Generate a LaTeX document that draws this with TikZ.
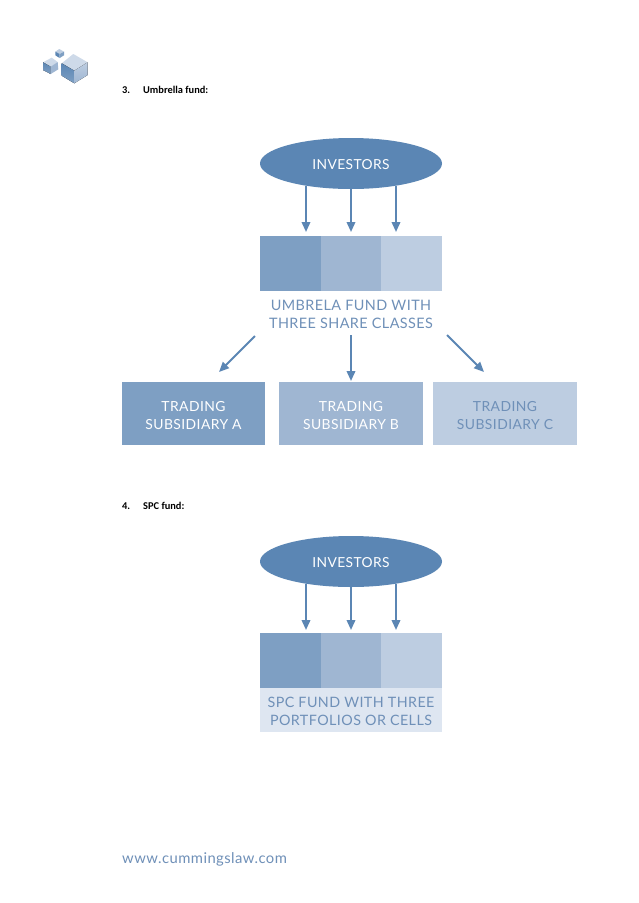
\documentclass[tikz,border=0pt]{standalone}
\usepackage{fontspec}
\setmainfont{Carlito}
\newfontfamily\diagfont[LetterSpace=3]{Lato}
\usetikzlibrary{shapes.geometric,arrows.meta}
\definecolor{deep}{HTML}{5B86B4}
\definecolor{midA}{HTML}{7E9FC3}
\definecolor{midB}{HTML}{9FB6D2}
\definecolor{midC}{HTML}{BDCDE1}
\definecolor{pale}{HTML}{DEE6F1}
\definecolor{inktext}{HTML}{6F90B8}
\tikzset{
  x=1pt,y=-1pt,
  ovalbox/.style={ellipse,fill=deep,draw=none,minimum width=182pt,minimum height=51pt,inner sep=0pt},
  ovaltxt/.style={inner sep=0pt,text=white,font=\diagfont\fontsize{13.8}{16}\selectfont},
  cellbox/.style={rectangle,draw=none,inner sep=0pt,minimum height=55pt},
  subbox/.style={rectangle,draw=none,inner sep=0pt,minimum width=143.5pt,minimum height=63pt},
  subtxt/.style={inner sep=0pt,align=center,font=\diagfont\fontsize{13.9}{18.5}\selectfont},
  captxt/.style={inner sep=0pt,align=center,text=inktext,font=\diagfont\fontsize{14.4}{18.5}\selectfont},
  arr/.style={draw=deep,line width=2pt,-{Triangle[length=10pt,width=8.5pt]}},
  headtxt/.style={inner sep=0pt,anchor=base west,text=black,font=\fontsize{10.4}{12}\selectfont\bfseries},
}
\begin{document}
\begin{tikzpicture}
\useasboundingbox[fill=white] (0,0) rectangle (638,903);
% logo
\fill[midC!75] (73.3,54) -- (61.7,63.3) -- (74.3,70.7) -- (87.7,62.3) -- cycle;
\fill[top color=deep,bottom color=midA] (61.7,63.3) -- (74.3,70.7) -- (74.3,83.3) -- (61.7,75.7) -- cycle;
\fill[top color=midC,bottom color=midB] (74.3,70.7) -- (87.7,62.3) -- (87.7,75) -- (74.3,83.3) -- cycle;
\fill[midC!75] (51.7,57.7) -- (43,62.3) -- (50.7,66.7) -- (57.7,62) -- cycle;
\fill[top color=deep,bottom color=midA] (43,62.3) -- (50.7,66.7) -- (50.7,74) -- (43,70) -- cycle;
\fill[midB] (50.7,66.7) -- (57.7,62) -- (58.3,69.3) -- (50.7,74) -- cycle;
\fill[midC] (59.3,49) -- (55.3,51.7) -- (59.7,54) -- (64,51.7) -- cycle;
\fill[deep] (55.3,51.7) -- (59.7,54) -- (59.7,58) -- (55.3,55.3) -- cycle;
\fill[midA] (59.7,54) -- (64,51.7) -- (64,55.3) -- (59.7,58) -- cycle;
% headings
\node[headtxt] (h3n) at (122,93) {3.};
\node[headtxt] (h3t) at (143,93) {Umbrella fund:};
\node[headtxt] (h4n) at (122,509) {4.};
\node[headtxt] (h4t) at (143,509) {SPC fund:};
% umbrella
\node[ovalbox] (inv) at (351,163.5) {};
\node[ovaltxt] (invt) at (351,164.5) {INVESTORS};
\node[cellbox,fill=midA,minimum width=61pt] (ca) at (290.5,263) {};
\node[cellbox,fill=midB,minimum width=60pt] (cb) at (351,263) {};
\node[cellbox,fill=midC,minimum width=61pt] (cc) at (411.5,263) {};
\node[captxt] (ucap) at (351,314.5) {UMBRELA FUND WITH\\THREE SHARE CLASSES};
\node[subbox,fill=midA] (sa) at (193.5,413.5) {};
\node[subbox,fill=midB] (sb) at (351,413.5) {};
\node[subbox,fill=midC] (sc) at (505,413.5) {};
\node[subtxt,text=white] (sat) at (193.5,415.5) {TRADING\\SUBSIDIARY A};
\node[subtxt,text=white] (sbt) at (351,415.5) {TRADING\\SUBSIDIARY B};
\node[subtxt,text=inktext] (sct) at (505,415.5) {TRADING\\SUBSIDIARY C};
\coordinate (u1s) at (306,186);
\coordinate (u2s) at (351,189);
\coordinate (u3s) at (396,186);
\coordinate (u1e) at (306,232);
\coordinate (u2e) at (351,232);
\coordinate (u3e) at (396,232);
\draw[arr] (u1s) -- (u1e);
\draw[arr] (u2s) -- (u2e);
\draw[arr] (u3s) -- (u3e);
\coordinate (d1s) at (255,336);
\coordinate (d1e) at (219,372);
\coordinate (d2s) at (351,335);
\coordinate (d2e) at (351,381);
\coordinate (d3s) at (447,335);
\coordinate (d3e) at (484,372);
\draw[arr] (d1s) -- (d1e);
\draw[arr] (d2s) -- (d2e);
\draw[arr] (d3s) -- (d3e);
% SPC
\node[ovalbox] (inv2) at (351,561.5) {};
\node[ovaltxt] (inv2t) at (351,562.5) {INVESTORS};
\node[cellbox,fill=midA,minimum width=61pt] (ca2) at (290.5,660.5) {};
\node[cellbox,fill=midB,minimum width=60pt] (cb2) at (351,660.5) {};
\node[cellbox,fill=midC,minimum width=61pt] (cc2) at (411.5,660.5) {};
\node[rectangle,fill=pale,minimum width=182pt,minimum height=44pt,inner sep=0pt] (scap) at (351,710) {};
\node[captxt,font=\diagfont\fontsize{14.3}{18.5}\selectfont] (scapt) at (351,711.5) {SPC FUND WITH THREE\\PORTFOLIOS OR CELLS};
\coordinate (v1s) at (306,584);
\coordinate (v2s) at (351,587);
\coordinate (v3s) at (396,584);
\coordinate (v1e) at (306,630);
\coordinate (v2e) at (351,630);
\coordinate (v3e) at (396,630);
\draw[arr] (v1s) -- (v1e);
\draw[arr] (v2s) -- (v2e);
\draw[arr] (v3s) -- (v3e);
% footer
\node[inner sep=0pt,anchor=base west,text=inktext,font=\diagfont\fontsize{14.8}{17}\selectfont] (web) at (122,863) {www.cummingslaw.com};
\end{tikzpicture}
\end{document}
